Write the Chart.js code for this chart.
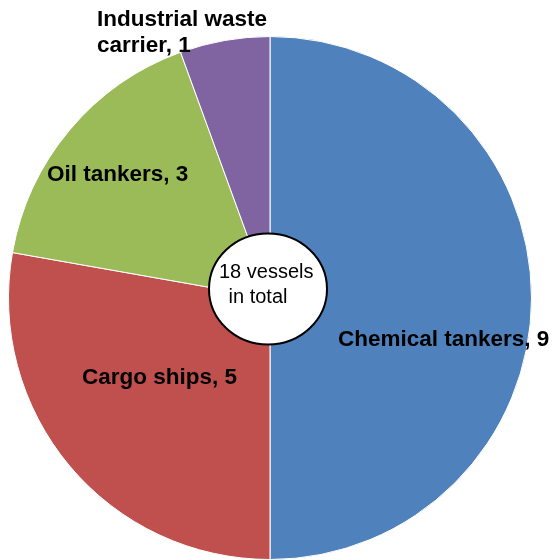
<!DOCTYPE html>
<html>
<head>
<meta charset="utf-8">
<script src="https://cdn.jsdelivr.net/npm/chart.js@4/dist/chart.umd.min.js"></script>
<style>
  body { margin: 0; background: #fff; }
  #wrap { width: 555px; height: 560px; }
</style>
</head>
<body>
<div id="wrap"><canvas id="pieCanvas" width="555" height="560"></canvas></div>
<script>
// data
const categories = ['Chemical tankers', 'Cargo ships', 'Oil tankers', 'Industrial waste carrier'];
const vessels = [9, 5, 3, 1];
const sliceColors = ['#4F81BD', '#C0504D', '#9BBB59', '#8064A2'];
const centerText = ['18 vessels', ' in total'];

// label placement (left x, baseline y), one entry per category; lines split for the wrapped one
const labelLines = [
  [`${categories[0]}, ${vessels[0]}`],
  [`${categories[1]}, ${vessels[1]}`],
  [`${categories[2]}, ${vessels[2]}`],
  ['Industrial waste', `carrier, ${vessels[3]}`]
];
const labelPos = [[338, 346], [82, 384], [47, 181], [97, 26]];

const FONT = '"Liberation Sans", Arial, sans-serif';

// draws the slice labels and the white bubble in the middle
const labelPlugin = {
  id: 'sliceLabels',
  afterDatasetsDraw(chart) {
    const ctx = chart.ctx;
    ctx.save();
    ctx.fillStyle = '#000';
    ctx.textAlign = 'left';
    ctx.textBaseline = 'alphabetic';
    ctx.font = `bold 22.5px ${FONT}`;
    labelLines.forEach((lines, i) => {
      lines.forEach((txt, j) => {
        ctx.fillText(txt, labelPos[i][0], labelPos[i][1] + j * 26);
      });
    });

    // center bubble
    ctx.beginPath();
    ctx.ellipse(268, 289, 59, 55.5, 0, 0, Math.PI * 2);
    ctx.fillStyle = '#fff';
    ctx.fill();
    ctx.lineWidth = 2;
    ctx.strokeStyle = '#000';
    ctx.stroke();

    ctx.fillStyle = '#000';
    ctx.font = `20px ${FONT}`;
    ctx.fillText(centerText[0], 219, 278);
    ctx.fillText(centerText[1], 223, 303);
    ctx.restore();
  }
};

new Chart(document.getElementById('pieCanvas'), {
  type: 'pie',
  data: {
    labels: categories,
    datasets: [{
      data: vessels,
      backgroundColor: sliceColors,
      borderColor: '#fff',
      borderWidth: 1
    }]
  },
  options: {
    responsive: false,
    animation: false,
    layout: { padding: { left: 8, right: 23, top: 36, bottom: 0 } },
    plugins: {
      legend: { display: false },
      tooltip: { enabled: false }
    }
  },
  plugins: [labelPlugin]
});
</script>
</body>
</html>
